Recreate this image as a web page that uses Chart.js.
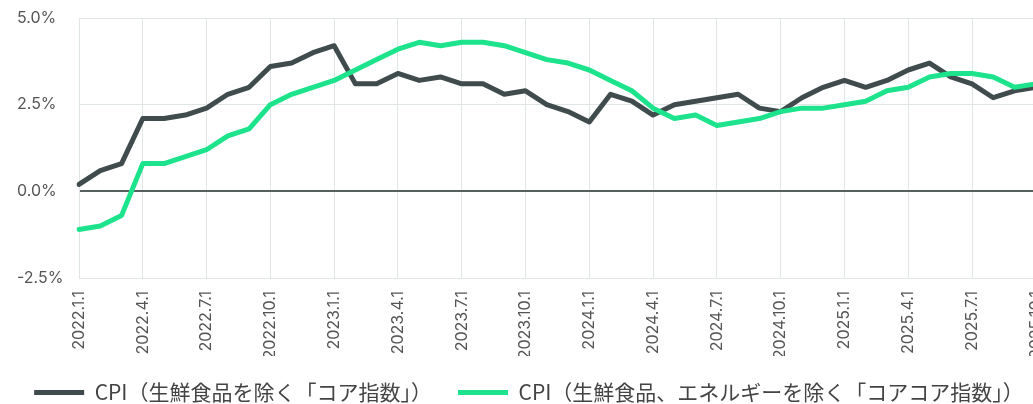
<!DOCTYPE html>
<html><head><meta charset="utf-8">
<script src="https://cdn.jsdelivr.net/npm/chart.js@4.4.1/dist/chart.umd.min.js"></script>
<style>
html,body{margin:0;padding:0;overflow:hidden;background:#fff;}
#wrap{position:relative;width:1068px;height:413px;}
</style></head><body>
<div id="wrap"><canvas id="c" width="1068" height="413"></canvas></div>
<script>
const categories = [
  "2022.1.1","2022.2.1","2022.3.1","2022.4.1","2022.5.1","2022.6.1","2022.7.1","2022.8.1","2022.9.1","2022.10.1","2022.11.1","2022.12.1",
  "2023.1.1","2023.2.1","2023.3.1","2023.4.1","2023.5.1","2023.6.1","2023.7.1","2023.8.1","2023.9.1","2023.10.1","2023.11.1","2023.12.1",
  "2024.1.1","2024.2.1","2024.3.1","2024.4.1","2024.5.1","2024.6.1","2024.7.1","2024.8.1","2024.9.1","2024.10.1","2024.11.1","2024.12.1",
  "2025.1.1","2025.2.1","2025.3.1","2025.4.1","2025.5.1","2025.6.1","2025.7.1","2025.8.1","2025.9.1","2025.10.1"
];
const tickLabels = [
  "2022.1.1","2022.4.1","2022.7.1","2022.10.1","2023.1.1","2023.4.1","2023.7.1","2023.10.1",
  "2024.1.1","2024.4.1","2024.7.1","2024.10.1","2025.1.1","2025.4.1","2025.7.1","2025.10.1"
];
const coreCPI = [
  0.2, 0.6, 0.8, 2.1, 2.1, 2.2, 2.4, 2.8, 3.0, 3.6, 3.7, 4.0,
  4.2, 3.1, 3.1, 3.4, 3.2, 3.3, 3.1, 3.1, 2.8, 2.9, 2.5, 2.3,
  2.0, 2.8, 2.6, 2.2, 2.5, 2.6, 2.7, 2.8, 2.4, 2.3, 2.7, 3.0,
  3.2, 3.0, 3.2, 3.5, 3.7, 3.3, 3.1, 2.7, 2.9, 3.0
];
const coreCoreCPI = [
  -1.1, -1.0, -0.7, 0.8, 0.8, 1.0, 1.2, 1.6, 1.8, 2.5, 2.8, 3.0,
  3.2, 3.5, 3.8, 4.1, 4.3, 4.2, 4.3, 4.3, 4.2, 4.0, 3.8, 3.7,
  3.5, 3.2, 2.9, 2.4, 2.1, 2.2, 1.9, 2.0, 2.1, 2.3, 2.4, 2.4,
  2.5, 2.6, 2.9, 3.0, 3.3, 3.4, 3.4, 3.3, 3.0, 3.1
];
const seriesNames = [
  "CPI（生鮮食品を除く「コア指数」）",
  "CPI（生鮮食品、エネルギーを除く「コアコア指数」）"
];
const yMin = -2.5, yMax = 5, yStep = 2.5;

const gridColor = '#e0e6e6';
const tickFont = {family: "Inter, Roboto, sans-serif", size: 16};

const layoutTweak = {
  id: 'layoutTweak',
  afterLayout(chart) {
    const lg = chart.legend;
    if (lg) { lg.left -= 5; lg.right -= 5; }
    const y = chart.scales.y;
    if (y) { y.left = 17; }
  }
};

new Chart(document.getElementById('c'), {
  type: 'line',
  data: {
    labels: categories,
    datasets: [
      {label: seriesNames[0], data: coreCPI, borderColor: '#3f4b4c', backgroundColor: '#3f4b4c',
       borderWidth: 5, pointRadius: 0, tension: 0, borderCapStyle: 'round', borderJoinStyle: 'round',
       pointStyle: 'line', order: 1},
      {label: seriesNames[1], data: coreCoreCPI, borderColor: '#1de38c', backgroundColor: '#1de38c',
       borderWidth: 5, pointRadius: 0, tension: 0, borderCapStyle: 'round', borderJoinStyle: 'round',
       pointStyle: 'line', order: 0}
    ]
  },
  plugins: [layoutTweak],
  options: {
    responsive: false,
    animation: false,
    devicePixelRatio: 1,
    layout: {padding: {top: 18, left: 0, right: 0, bottom: 0}, autoPadding: false},
    plugins: {
      tooltip: {enabled: false},
      legend: {
        position: 'bottom',
        labels: {
          usePointStyle: true, pointStyle: 'line', pointStyleWidth: 50,
          padding: 26, color: '#444',
          font: {family: "'Noto Sans CJK JP', sans-serif", size: 21},
          sort: (a, b) => a.datasetIndex - b.datasetIndex
        }
      }
    },
    scales: {
      x: {
        grid: {color: gridColor, drawTicks: false, lineWidth: 1},
        border: {color: gridColor},
        ticks: {
          autoSkip: false, maxRotation: 90, minRotation: 90, padding: 13,
          color: '#555', font: tickFont,
          callback: (v, i) => tickLabels.includes(categories[i]) ? categories[i] : null
        },
        afterFit: s => { s.height = 78; }
      },
      y: {
        min: yMin, max: yMax,
        grid: {
          color: c => c.tick && c.tick.value === 0 ? '#56605f' : gridColor,
          lineWidth: c => c.tick && c.tick.value === 0 ? 2 : 1,
          drawTicks: false
        },
        border: {color: gridColor},
        ticks: {
          stepSize: yStep, crossAlign: 'far', color: '#555', font: tickFont, padding: 8,
          callback: v => Number(v).toFixed(1) + '%'
        },
        afterFit: s => { s.width = 79; }
      }
    }
  }
});
</script>
</body></html>
